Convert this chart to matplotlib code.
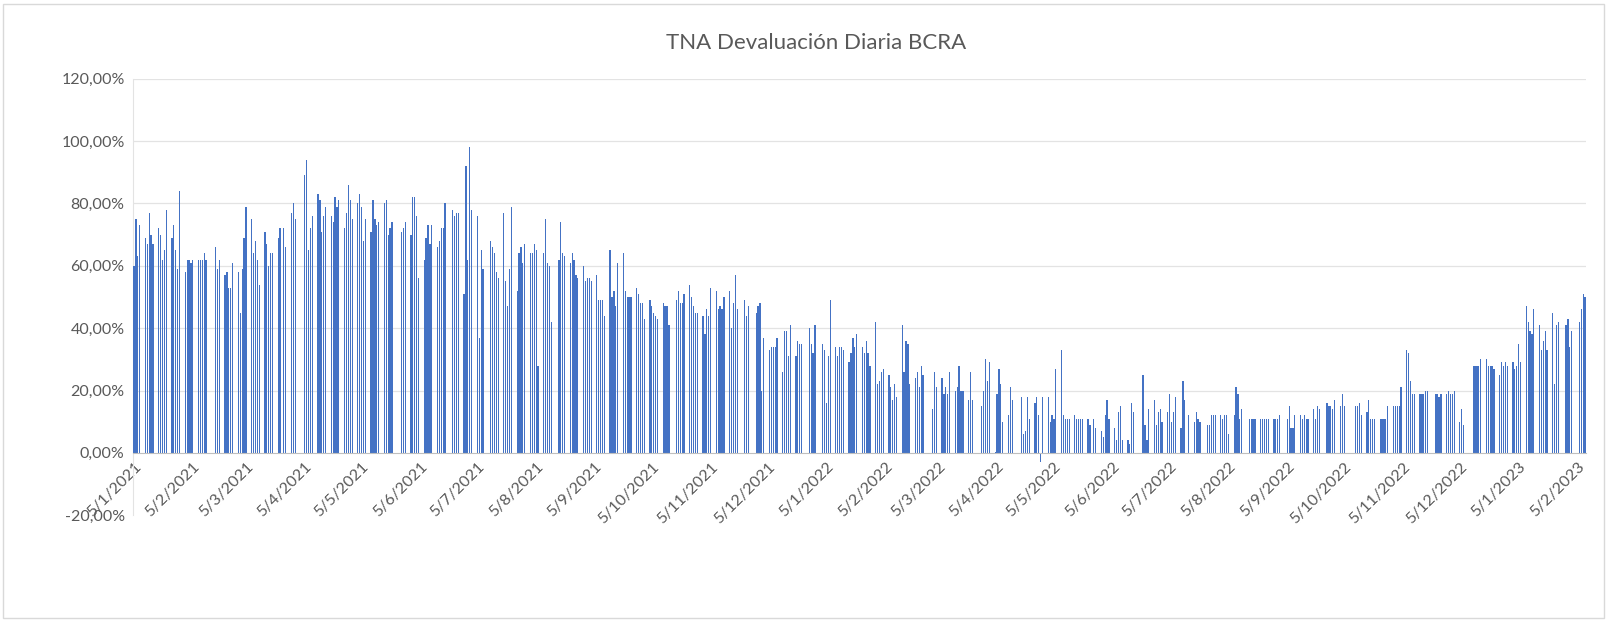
import matplotlib
matplotlib.use('Agg')
import matplotlib.pyplot as plt
import matplotlib.dates as mdates
import numpy as np
import pandas as pd
from matplotlib.patches import Rectangle
from matplotlib.ticker import FuncFormatter

# --- Datos: TNA diaria (%) por semana, lunes a viernes (None = feriado) ---
FIRST_MONDAY = '2021-01-04'

WEEKS_2021 = [
    [None, 60, 75, 63, 73], [69, 67, 77, 70, 67], [72, 70, 62, 65, 78],
    [69, 73, 65, 59, 84], [58, 62, 62, 61, 62], [62, 62, 62, 64, 62],
    [None, None, 66, 59, 62], [57, 58, 53, 53, 61], [58, 45, 59, 69, 79],
    [75, 64, 68, 62, 54], [71, 67, 60, 64, 64], [69, 72, None, 72, 66],
    [77, 80, 75, None, None], [89, 94, 65, 72, 76], [83, 81, 71, 76, 79],
    [76, 74, 82, 79, 81], [72, 77, 86, 81, 75], [80, 83, 79, 68, 75],
    [71, 81, 75, 73, 74], [80, 81, 70, 72, 74], [None, None, 71, 72, 74],
    [70, 82, 82, 76, 56], [62, 69, 73, 67, 73], [66, 68, 72, 72, 80],
    [None, 78, 76, 77, 77], [51, 92, 62, 98, 78], [76, 37, 65, 59, None],
    [68, 66, 64, 58, 56], [77, 55, 47, 59, 79], [52, 64, 66, 61, 67],
    [64, 64, 67, 65, 28], [64, 75, 61, 60, 42], [None, 62, 74, 64, 63],
    [61, 64, 62, 57, 56], [60, 55, 56, 56, 55], [57, 49, 49, 49, 44],
    [65, 50, 52, 47, 61], [64, 52, 50, 50, 50], [53, 51, 48, 48, 43],
    [49, 47, 45, 44, 43], [48, 47, 47, 41, None], [49, 52, 48, 48, 51],
    [54, 50, 47, 45, 45], [44, 38, 46, 44, 53], [52, 46, 47, 46, 50],
    [52, 40, 48, 57, 46], [None, 49, 44, 47, None], [45, 47, 48, 20, 37],
    [33, 34, 34, 34, 37], [26, 39, 39, 31, 41], [31, 36, 35, 35, None],
    [40, 35, 32, 41, None],
]

WEEKS_2022 = [
    [35, 33, 16, 31, 49], [34, 31, 34, 34, 33], [29, 32, 37, 34, 38],
    [34, 32, 36, 32, 28], [42, 22, 23, 26, 27], [25, 21, 17, 22, 18],
    [41, 26, 36, 35, 22], [24, 26, 21, 28, 25], [None, None, 14, 26, 21],
    [24, 19, 21, 19, 26], [20, 21, 28, 20, 20], [17, 26, 17, None, None],
    [15, 20, 30, 23, 29], [0.3, 19, 27, 22, 10], [12, 21, 17, None, None],
    [18, 6, 7, 18, 11], [16, 18, 12, -3, 18], [18, 10, 12, 11, 27],
    [33, 12, 11, 11, 11], [12, 11, 11, 11, 11], [11, 9, None, 11, 8],
    [7, 5, 12, 17, 11], [8, 4, 13, 15, 4], [4, 3, 16, 13, None],
    [None, 25, 9, 4, 14], [17, 9, 13, 14, 10], [13, 19, 10, 13, 18],
    [8, 23, 17, None, 12], [10, 13, 11, 10, None], [9, 9, 12, 12, 12],
    [12, 11, 12, 12, 6], [12, 21, 19, 11, 14], [None, 11, 11, 11, 11],
    [11, 11, 11, 11, 11], [11, 11, 11, 12, None], [11, 15, 8, 8, 12],
    [12, 11, 12, 11, 11], [14, 11, 15, 14, None], [16, 15, 15, 14, 17],
    [15, 19, 15, None, None], [None, 15, 15, 16, 12], [13, 17, 11, 11, 11],
    [11, 11, 11, 11, 15], [15, 15, 15, 15, 21], [33, 32, 23, 19, 19],
    [19, 19, 19, 20, 20], [None, 19, 19, 18, 19], [19, 20, 19, 19, 20],
    [10, 14, 9, None, None], [28, 28, 28, 28, 30], [30, 28, 28, 28, 27],
    [25, 29, 28, 29, 28],
]

WEEKS_2023 = [
    [29, 27, 28, 35, 29], [47, 42, 39, 38, 46], [41, 33, 36, 39, 33],
    [45, 22, 41, 42, None], [41, 43, 34, 39, None], [42, 46, 51, 50, None],
]

TITLE = 'TNA Devaluación Diaria BCRA'
Y_TICKS = [-20, 0, 20, 40, 60, 80, 100, 120]
TICK_DAY = 5
FIRST_MONTH = '2021-01-01'
LAST_MONTH = '2023-02-01'

BAR_COLOR = '#4472C4'
TEXT_COLOR = '#595959'
GRID_COLOR = '#E3E3E3'
AXIS_COLOR = '#BFBFBF'

# --- Armado de la serie ---
weeks = WEEKS_2021 + WEEKS_2022 + WEEKS_2023
start = pd.Timestamp(FIRST_MONDAY)
dates, values = [], []
for w, week in enumerate(weeks):
    for d, val in enumerate(week):
        if val is None:
            continue
        dates.append(start + pd.Timedelta(days=7 * w + d))
        values.append(val)
x = mdates.date2num(pd.to_datetime(dates))
values = np.array(values, dtype=float)

plt.rcParams['font.family'] = ['Lato', 'DejaVu Sans']

fig = plt.figure(figsize=(16.09, 6.2), dpi=100)
ax = fig.add_axes([0.0827, 0.169, 0.903, 0.704])

ax.bar(x, values, width=0.65, color=BAR_COLOR, linewidth=0, zorder=3)

# eje horizontal cruzando en 0
ax.spines['bottom'].set_position(('data', 0))
ax.spines['bottom'].set_color(AXIS_COLOR)
ax.spines['bottom'].set_zorder(4)
ax.spines['left'].set_color(GRID_COLOR)
for side in ['top', 'right']:
    ax.spines[side].set_visible(False)

ax.set_ylim(-20, 120)
ax.set_yticks(Y_TICKS)
ax.yaxis.set_major_formatter(
    FuncFormatter(lambda v, _p: f"{v:.2f}".replace('.', ',') + '%')
)
# líneas de división (sin la de -20%)
for yv in Y_TICKS[2:]:
    ax.axhline(yv, color=GRID_COLOR, linewidth=0.9, zorder=0)

ax.set_xlim(x.min() - 0.5, x.max() + 0.5)
tick_dates = pd.date_range(FIRST_MONTH, LAST_MONTH, freq='MS') + pd.Timedelta(days=TICK_DAY - 1)
ax.set_xticks(mdates.date2num(tick_dates))
ax.set_xticklabels([f"{t.day}/{t.month}/{t.year}" for t in tick_dates])

ax.tick_params(axis='x', length=0, pad=5, labelsize=11.5, colors=TEXT_COLOR)
ax.tick_params(axis='y', length=0, pad=6, labelsize=11.5, colors=TEXT_COLOR)
plt.setp(ax.get_xticklabels(), rotation=45, ha='right', va='top',
         rotation_mode='anchor')

fig.text(0.507, 0.93, TITLE, ha='center', va='center', fontsize=16, color=TEXT_COLOR)

fig.patches.append(Rectangle((0.002, 0.003), 0.995, 0.99, transform=fig.transFigure,
                             fill=False, edgecolor='#D9D9D9', linewidth=1.0))

fig.savefig('out.png', dpi=100, facecolor='white')
